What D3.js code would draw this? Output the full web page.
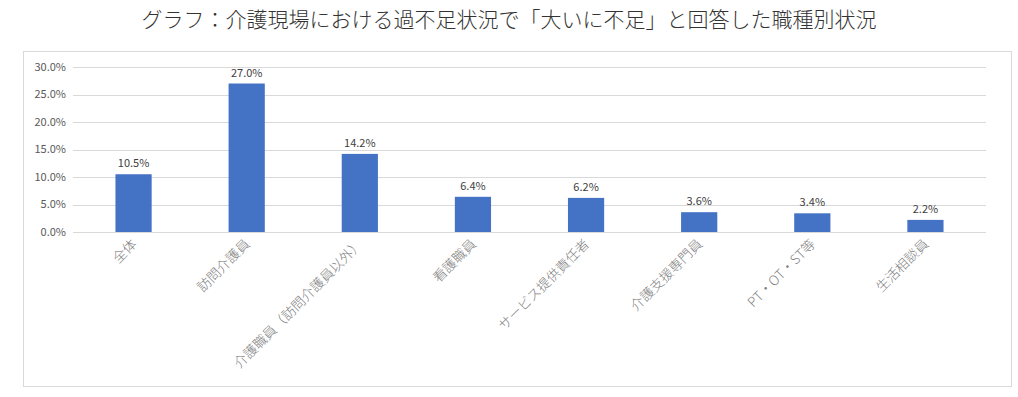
<!DOCTYPE html>
<html>
<head>
<meta charset="utf-8">
<script src="https://cdn.jsdelivr.net/npm/d3@7"></script>
<style>
  body { margin: 0; background: #fff; }
  svg { display: block; font-family: "Noto Sans CJK JP", "Noto Sans", sans-serif; }
</style>
</head>
<body>
<svg id="chart" width="1018" height="397"></svg>
<script>
const categories = ["全体", "訪問介護員", "介護職員（訪問介護員以外）", "看護職員", "サービス提供責任者", "介護支援専門員", "PT・OT・ST等", "生活相談員"];
const values = [10.5, 27.0, 14.2, 6.4, 6.2, 3.6, 3.4, 2.2];
const yTicks = [0, 5, 10, 15, 20, 25, 30];
const title = "グラフ：介護現場における過不足状況で「大いに不足」と回答した職種別状況";

const svg = d3.select("#chart");
const margin = { top: 67, right: 36, bottom: 165, left: 77 };
const width = 1018, height = 397;

// outer frame
svg.append("rect")
  .attr("x", 23.5).attr("y", 51.5)
  .attr("width", 988).attr("height", 335)
  .attr("fill", "#fff").attr("stroke", "#d9d9d9");

svg.append("text")
  .attr("x", width / 2).attr("y", 27)
  .attr("text-anchor", "middle")
  .attr("font-size", 21).attr("font-weight", 300)
  .attr("fill", "#333")
  .text(title);

const x = d3.scaleBand()
  .domain(categories)
  .range([margin.left, width - margin.right])
  .paddingInner(0.68).paddingOuter(0.34);

const y = d3.scaleLinear()
  .domain([0, 30])
  .range([height - margin.bottom, margin.top]);

// gridlines
svg.append("g")
  .selectAll("line")
  .data(yTicks)
  .join("line")
  .attr("x1", margin.left - 4).attr("x2", width - margin.right + 4)
  .attr("y1", d => Math.round(y(d)) + 0.5).attr("y2", d => Math.round(y(d)) + 0.5)
  .attr("stroke", "#d9d9d9");

// y axis labels
svg.append("g")
  .selectAll("text")
  .data(yTicks)
  .join("text")
  .attr("x", 66).attr("y", d => y(d))
  .attr("dy", "0.35em")
  .attr("text-anchor", "end")
  .attr("font-size", 11)
  .attr("fill", "#595959")
  .text(d => d.toFixed(1) + "%");

// bars
svg.append("g")
  .selectAll("rect")
  .data(values)
  .join("rect")
  .attr("x", (d, i) => x(categories[i]))
  .attr("y", d => y(d))
  .attr("width", x.bandwidth())
  .attr("height", d => y(0) - y(d))
  .attr("fill", "#4472c4");

// data labels
svg.append("g")
  .selectAll("text")
  .data(values)
  .join("text")
  .attr("x", (d, i) => x(categories[i]) + x.bandwidth() / 2)
  .attr("y", d => y(d) - 7)
  .attr("text-anchor", "middle")
  .attr("font-size", 11)
  .attr("fill", "#404040")
  .text(d => d.toFixed(1) + "%");

// category labels
svg.append("g")
  .selectAll("text")
  .data(categories)
  .join("text")
  .attr("transform", d => `translate(${x(d) + x.bandwidth() / 2 + 4},${y(0) + 13}) rotate(-45)`)
  .attr("text-anchor", "end")
  .attr("font-size", 13.5)
  .attr("font-weight", 300)
  .attr("fill", "#7f7f7f")
  .text(d => d);
</script>
</body>
</html>
